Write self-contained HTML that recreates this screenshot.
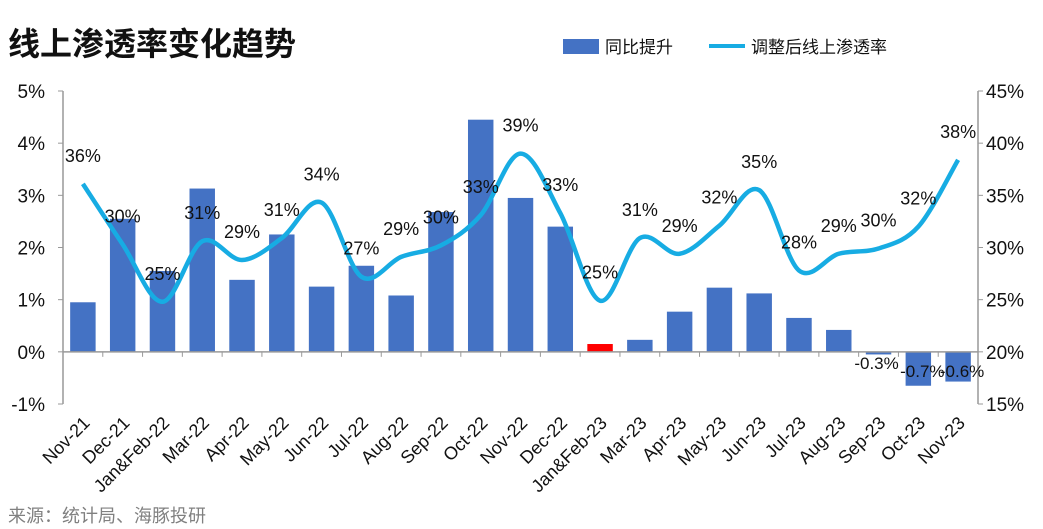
<!DOCTYPE html>
<html><head><meta charset="utf-8"><style>
body{margin:0;background:#fff;}
svg{display:block;font-family:"Liberation Sans","Noto Sans CJK SC",sans-serif;}
</style></head><body>
<svg id="c" width="1043" height="529">
<rect x="0" y="0" width="1043" height="529" fill="#fff"/>
<text x="8" y="55" font-size="32" font-weight="bold" fill="#111">线上渗透率变化趋势</text>
<g>
<rect x="563" y="39" width="36" height="15" fill="#4472C4"/>
<text x="605" y="53" font-size="17" fill="#111">同比提升</text>
<line x1="709" y1="46" x2="745" y2="46" stroke="#17ACE3" stroke-width="4"/>
<text x="751" y="53" font-size="17" fill="#111">调整后线上渗透率</text>
</g>
<text x="8" y="522" font-size="18" fill="#808080">来源：统计局、海豚投研</text>
<g id="plot"></g>
</svg>
<script>
const categories=["Nov-21","Dec-21","Jan&Feb-22","Mar-22","Apr-22","May-22","Jun-22","Jul-22","Aug-22","Sep-22","Oct-22","Nov-22","Dec-22","Jan&Feb-23","Mar-23","Apr-23","May-23","Jun-23","Jul-23","Aug-23","Sep-23","Oct-23","Nov-23"];
const yoyValues=[0.95,2.55,1.55,3.13,1.38,2.25,1.25,1.65,1.08,2.68,4.45,2.95,2.4,0.15,0.23,0.77,1.23,1.12,0.65,0.42,-0.05,-0.65,-0.57];
const yoyLabels=["","","","","","","","","","","","","","","","","","","","","-0.3%","-0.7%","-0.6%"];
const rateValues=[36.1,30.3,24.8,30.6,28.8,30.9,34.3,27.2,29.1,30.2,33.1,39.0,33.3,24.9,30.9,29.4,32.1,35.5,27.8,29.4,29.9,32.0,38.4];
const rateLabels=["36%","30%","25%","31%","29%","31%","34%","27%","29%","30%","33%","39%","33%","25%","31%","29%","32%","35%","28%","29%","30%","32%","38%"];
const leftTicks=[-1,0,1,2,3,4,5];
const rightTicks=[15,20,25,30,35,40,45];
const NS="http://www.w3.org/2000/svg";
const g=document.getElementById('plot');
const X0=63,X1=978,YT=91,YB=404;
const band=(X1-X0)/categories.length;
const xc=i=>X0+band*(i+0.5);
const yL=v=>YB-(v-(-1))/(5-(-1))*(YB-YT);
const yR=v=>YB-(v-15)/(45-15)*(YB-YT);
function mk(t,a){const e=document.createElementNS(NS,t);for(const k in a)e.setAttribute(k,a[k]);g.appendChild(e);return e;}
let e=mk('line',{x1:X0,y1:YT,x2:X0,y2:YB,stroke:'#999','stroke-width':1.5});


e=mk('line',{x1:X1,y1:YT,x2:X1,y2:YB,stroke:'#999','stroke-width':1.5});


leftTicks.forEach(v=>{
 const t=mk('line',{x1:X0-5,y1:yL(v),x2:X0,y2:yL(v),stroke:'#999'});
 
 
 const l=mk('text',{x:X0-18,y:yL(v)+7,'font-size':19,'text-anchor':'end',fill:'#111'});
 l.textContent=v+'%';
 
 
});
rightTicks.forEach(v=>{
 const t=mk('line',{x1:X1,y1:yR(v),x2:X1+5,y2:yR(v),stroke:'#999'});
 
 
 const l=mk('text',{x:X1+8,y:yR(v)+7,'font-size':19,fill:'#111'});
 l.textContent=v+'%';
 
 
});
const bw=band*0.64;
yoyValues.forEach((v,i)=>{
 const y0=yL(0),y1=yL(v);
 const r=mk('rect',{x:xc(i)-bw/2,y:Math.min(y0,y1),width:bw,height:Math.abs(y1-y0),fill:i===13?'#FF0000':'#4472C4'});
 
 
 if(yoyLabels[i]){
  const l=mk('text',{x:xc(i)+(i===20?-2:4),y:y0+(v<-0.3?25:17),'font-size':17,'text-anchor':'middle',fill:'#111'});
  l.textContent=yoyLabels[i];
  
  
 }
});
e=mk('line',{x1:X0,y1:yL(0),x2:X1,y2:yL(0),stroke:'#999','stroke-width':1.5});


for(let i=0;i<=categories.length;i++){
 const t=mk('line',{x1:X0+band*i,y1:yL(0),x2:X0+band*i,y2:yL(0)+5,stroke:'#999'});
 
 
}
const pts=rateValues.map((v,i)=>[xc(i),yR(v)]);
let d='M'+pts[0][0]+','+pts[0][1];
for(let i=0;i<pts.length-1;i++){
 const p0=pts[Math.max(0,i-1)],p1=pts[i],p2=pts[i+1],p3=pts[Math.min(pts.length-1,i+2)];
 const c1=[p1[0]+(p2[0]-p0[0])/6,p1[1]+(p2[1]-p0[1])/6];
 const c2=[p2[0]-(p3[0]-p1[0])/6,p2[1]-(p3[1]-p1[1])/6];
 d+=` C${c1[0]},${c1[1]} ${c2[0]},${c2[1]} ${p2[0]},${p2[1]}`;
}
e=mk('path',{d:d,fill:'none',stroke:'#17ACE3','stroke-width':4.5,'stroke-linejoin':'round'});


rateValues.forEach((v,i)=>{
 const l=mk('text',{x:xc(i),y:yR(v)-22,'font-size':18,'text-anchor':'middle',fill:'#111'});
 l.textContent=rateLabels[i];
 
 
});
categories.forEach((c,i)=>{
 const x=xc(i)+8,y=424;
 const l=mk('text',{x:x,y:y,'font-size':18,'text-anchor':'end',fill:'#111',transform:`rotate(-45 ${x} ${y})`});
 l.textContent=c;
 
 
});
</script>
</body></html>
